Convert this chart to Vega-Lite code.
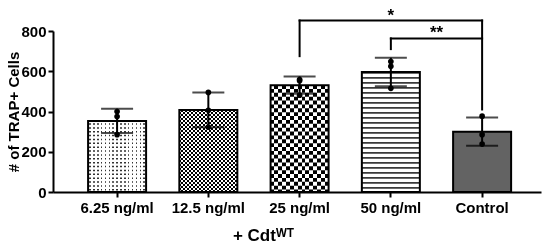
{
  "$schema": "https://vega.github.io/schema/vega-lite/v6.json",
  "width": 488,
  "height": 161,
  "autosize": {"type": "none"},
  "padding": {"left": 53, "top": 31, "right": 9, "bottom": 53},
  "background": "white",
  "config": {
    "view": {"stroke": null},
    "font": "Liberation Sans",
    "axis": {
      "domainColor": "black", "domainWidth": 2, "tickColor": "black", "tickWidth": 2, "tickSize": 5,
      "labelFont": "Liberation Sans", "labelFontSize": 15, "labelFontWeight": "bold", "labelColor": "black",
      "titleFont": "Liberation Sans", "titleFontWeight": "bold", "titleColor": "black", "grid": false
    }
  },
  "datasets": {
    "cells": [
      {"group": "6.25 ng/ml", "value": 400}, {"group": "6.25 ng/ml", "value": 375}, {"group": "6.25 ng/ml", "value": 285},
      {"group": "12.5 ng/ml", "value": 495}, {"group": "12.5 ng/ml", "value": 406}, {"group": "12.5 ng/ml", "value": 322},
      {"group": "25 ng/ml", "value": 559}, {"group": "25 ng/ml", "value": 553}, {"group": "25 ng/ml", "value": 481},
      {"group": "50 ng/ml", "value": 648}, {"group": "50 ng/ml", "value": 625}, {"group": "50 ng/ml", "value": 515},
      {"group": "Control", "value": 377}, {"group": "Control", "value": 285}, {"group": "Control", "value": 238}
    ],
    "brackets": [
      {"from": "25 ng/ml", "to": "Control", "y": 852, "label": "*"},
      {"from": "50 ng/ml", "to": "Control", "y": 763, "label": "**"}
    ],
    "legs": [
      {"group": "25 ng/ml", "top": 852, "bottom": 675},
      {"group": "Control", "top": 852, "bottom": 410},
      {"group": "50 ng/ml", "top": 763, "bottom": 710}
    ]
  },
  "data": {"name": "cells"},
  "encoding": {
    "x": {
      "field": "group", "type": "nominal", "title": "+ Cdtᵂᵀ",
      "scale": {"domain": ["6.25 ng/ml", "12.5 ng/ml", "25 ng/ml", "50 ng/ml", "Control"], "paddingInner": 0.3644, "paddingOuter": 0.356, "align": 0.54},
      "axis": {"labelAngle": 0, "labelPadding": 3, "titleX": 210, "titleY": 48, "titleBaseline": "alphabetic", "titleFontSize": 17}
    }
  },
  "layer": [
    {
      "transform": [{"filter": "datum.group === '6.25 ng/ml'"}],
      "mark": {"type": "bar", "fill": {"gradient": "linear", "x1": 0, "y1": 0, "x2": 1, "y2": 0, "stops": [
        {"offset": 0.02, "color": "#ffffff"}, {"offset": 0.02, "color": "#333333"}, {"offset": 0.0467, "color": "#333333"}, {"offset": 0.0467, "color": "#ffffff"},
        {"offset": 0.0867, "color": "#ffffff"}, {"offset": 0.0867, "color": "#333333"}, {"offset": 0.1133, "color": "#333333"}, {"offset": 0.1133, "color": "#ffffff"},
        {"offset": 0.1533, "color": "#ffffff"}, {"offset": 0.1533, "color": "#333333"}, {"offset": 0.18, "color": "#333333"}, {"offset": 0.18, "color": "#ffffff"},
        {"offset": 0.22, "color": "#ffffff"}, {"offset": 0.22, "color": "#333333"}, {"offset": 0.2467, "color": "#333333"}, {"offset": 0.2467, "color": "#ffffff"},
        {"offset": 0.2867, "color": "#ffffff"}, {"offset": 0.2867, "color": "#333333"}, {"offset": 0.3133, "color": "#333333"}, {"offset": 0.3133, "color": "#ffffff"},
        {"offset": 0.3533, "color": "#ffffff"}, {"offset": 0.3533, "color": "#333333"}, {"offset": 0.38, "color": "#333333"}, {"offset": 0.38, "color": "#ffffff"},
        {"offset": 0.42, "color": "#ffffff"}, {"offset": 0.42, "color": "#333333"}, {"offset": 0.4467, "color": "#333333"}, {"offset": 0.4467, "color": "#ffffff"},
        {"offset": 0.4867, "color": "#ffffff"}, {"offset": 0.4867, "color": "#333333"}, {"offset": 0.5133, "color": "#333333"}, {"offset": 0.5133, "color": "#ffffff"},
        {"offset": 0.5533, "color": "#ffffff"}, {"offset": 0.5533, "color": "#333333"}, {"offset": 0.58, "color": "#333333"}, {"offset": 0.58, "color": "#ffffff"},
        {"offset": 0.62, "color": "#ffffff"}, {"offset": 0.62, "color": "#333333"}, {"offset": 0.6467, "color": "#333333"}, {"offset": 0.6467, "color": "#ffffff"},
        {"offset": 0.6867, "color": "#ffffff"}, {"offset": 0.6867, "color": "#333333"}, {"offset": 0.7133, "color": "#333333"}, {"offset": 0.7133, "color": "#ffffff"},
        {"offset": 0.7533, "color": "#ffffff"}, {"offset": 0.7533, "color": "#333333"}, {"offset": 0.78, "color": "#333333"}, {"offset": 0.78, "color": "#ffffff"},
        {"offset": 0.82, "color": "#ffffff"}, {"offset": 0.82, "color": "#333333"}, {"offset": 0.8467, "color": "#333333"}, {"offset": 0.8467, "color": "#ffffff"},
        {"offset": 0.8867, "color": "#ffffff"}, {"offset": 0.8867, "color": "#333333"}, {"offset": 0.9133, "color": "#333333"}, {"offset": 0.9133, "color": "#ffffff"},
        {"offset": 0.9533, "color": "#ffffff"}, {"offset": 0.9533, "color": "#333333"}, {"offset": 0.98, "color": "#333333"}, {"offset": 0.98, "color": "#ffffff"}
      ]}},
      "encoding": {
        "y": {"aggregate": "mean", "field": "value", "type": "quantitative", "title": "# of TRAP+ Cells", "scale": {"domain": [0, 800], "nice": false},
          "axis": {"values": [0, 200, 400, 600, 800], "titleFontSize": 15, "titlePadding": -1, "labelPadding": 2}}
      }
    },
    {
      "transform": [{"filter": "datum.group === '12.5 ng/ml'"}],
      "mark": {"type": "bar", "fill": {"gradient": "linear", "x1": 0, "y1": 0, "x2": 1, "y2": 0, "stops": [
        {"offset": 0, "color": "#000000"}, {"offset": 0.0345, "color": "#000000"}, {"offset": 0.0345, "color": "#ffffff"},
        {"offset": 0.069, "color": "#ffffff"}, {"offset": 0.069, "color": "#000000"},
        {"offset": 0.1034, "color": "#000000"}, {"offset": 0.1034, "color": "#ffffff"},
        {"offset": 0.1379, "color": "#ffffff"}, {"offset": 0.1379, "color": "#000000"},
        {"offset": 0.1724, "color": "#000000"}, {"offset": 0.1724, "color": "#ffffff"},
        {"offset": 0.2069, "color": "#ffffff"}, {"offset": 0.2069, "color": "#000000"},
        {"offset": 0.2414, "color": "#000000"}, {"offset": 0.2414, "color": "#ffffff"},
        {"offset": 0.2759, "color": "#ffffff"}, {"offset": 0.2759, "color": "#000000"},
        {"offset": 0.3103, "color": "#000000"}, {"offset": 0.3103, "color": "#ffffff"},
        {"offset": 0.3448, "color": "#ffffff"}, {"offset": 0.3448, "color": "#000000"},
        {"offset": 0.3793, "color": "#000000"}, {"offset": 0.3793, "color": "#ffffff"},
        {"offset": 0.4138, "color": "#ffffff"}, {"offset": 0.4138, "color": "#000000"},
        {"offset": 0.4483, "color": "#000000"}, {"offset": 0.4483, "color": "#ffffff"},
        {"offset": 0.4828, "color": "#ffffff"}, {"offset": 0.4828, "color": "#000000"},
        {"offset": 0.5172, "color": "#000000"}, {"offset": 0.5172, "color": "#ffffff"},
        {"offset": 0.5517, "color": "#ffffff"}, {"offset": 0.5517, "color": "#000000"},
        {"offset": 0.5862, "color": "#000000"}, {"offset": 0.5862, "color": "#ffffff"},
        {"offset": 0.6207, "color": "#ffffff"}, {"offset": 0.6207, "color": "#000000"},
        {"offset": 0.6552, "color": "#000000"}, {"offset": 0.6552, "color": "#ffffff"},
        {"offset": 0.6897, "color": "#ffffff"}, {"offset": 0.6897, "color": "#000000"},
        {"offset": 0.7241, "color": "#000000"}, {"offset": 0.7241, "color": "#ffffff"},
        {"offset": 0.7586, "color": "#ffffff"}, {"offset": 0.7586, "color": "#000000"},
        {"offset": 0.7931, "color": "#000000"}, {"offset": 0.7931, "color": "#ffffff"},
        {"offset": 0.8276, "color": "#ffffff"}, {"offset": 0.8276, "color": "#000000"},
        {"offset": 0.8621, "color": "#000000"}, {"offset": 0.8621, "color": "#ffffff"},
        {"offset": 0.8966, "color": "#ffffff"}, {"offset": 0.8966, "color": "#000000"},
        {"offset": 0.931, "color": "#000000"}, {"offset": 0.931, "color": "#ffffff"},
        {"offset": 0.9655, "color": "#ffffff"}, {"offset": 0.9655, "color": "#000000"},
        {"offset": 1, "color": "#000000"}
      ]}},
      "encoding": {"y": {"aggregate": "mean", "field": "value", "type": "quantitative", "title": "# of TRAP+ Cells"}}
    },
    {
      "transform": [{"filter": "datum.group === '25 ng/ml'"}],
      "mark": {"type": "bar", "fill": {"gradient": "linear", "x1": 0, "y1": 0, "x2": 1, "y2": 0, "stops": [
        {"offset": 0, "color": "#000000"}, {"offset": 0.0667, "color": "#000000"}, {"offset": 0.0667, "color": "#ffffff"},
        {"offset": 0.1333, "color": "#ffffff"}, {"offset": 0.1333, "color": "#000000"},
        {"offset": 0.2, "color": "#000000"}, {"offset": 0.2, "color": "#ffffff"},
        {"offset": 0.2667, "color": "#ffffff"}, {"offset": 0.2667, "color": "#000000"},
        {"offset": 0.3333, "color": "#000000"}, {"offset": 0.3333, "color": "#ffffff"},
        {"offset": 0.4, "color": "#ffffff"}, {"offset": 0.4, "color": "#000000"},
        {"offset": 0.4667, "color": "#000000"}, {"offset": 0.4667, "color": "#ffffff"},
        {"offset": 0.5333, "color": "#ffffff"}, {"offset": 0.5333, "color": "#000000"},
        {"offset": 0.6, "color": "#000000"}, {"offset": 0.6, "color": "#ffffff"},
        {"offset": 0.6667, "color": "#ffffff"}, {"offset": 0.6667, "color": "#000000"},
        {"offset": 0.7333, "color": "#000000"}, {"offset": 0.7333, "color": "#ffffff"},
        {"offset": 0.8, "color": "#ffffff"}, {"offset": 0.8, "color": "#000000"},
        {"offset": 0.8667, "color": "#000000"}, {"offset": 0.8667, "color": "#ffffff"},
        {"offset": 0.9333, "color": "#ffffff"}, {"offset": 0.9333, "color": "#000000"},
        {"offset": 1, "color": "#000000"}
      ]}},
      "encoding": {"y": {"aggregate": "mean", "field": "value", "type": "quantitative", "title": "# of TRAP+ Cells"}}
    },
    {
      "transform": [{"filter": "datum.group === '50 ng/ml'"}],
      "mark": {"type": "bar", "fill": "#ffffff"},
      "encoding": {"y": {"aggregate": "mean", "field": "value", "type": "quantitative", "title": "# of TRAP+ Cells"}}
    },
    {
      "transform": [{"filter": "datum.group === 'Control'"}],
      "mark": {"type": "bar", "fill": "#636363"},
      "encoding": {"y": {"aggregate": "mean", "field": "value", "type": "quantitative", "title": "# of TRAP+ Cells"}}
    },
    {
      "transform": [{"filter": "datum.group === '6.25 ng/ml'"}],
      "mark": {"type": "rule", "color": "#ffffff", "strokeWidth": 58, "strokeDash": [2.37, 1.5]},
      "encoding": {"y": {"aggregate": "mean", "field": "value", "type": "quantitative", "title": "# of TRAP+ Cells"}, "y2": {"datum": 0}}
    },
    {
      "transform": [{"filter": "datum.group === '12.5 ng/ml'"}],
      "mark": {"type": "rule", "color": "#ffffff", "strokeWidth": 58, "strokeDash": [2, 2], "blend": "difference"},
      "encoding": {"y": {"aggregate": "mean", "field": "value", "type": "quantitative", "title": "# of TRAP+ Cells"}, "y2": {"datum": 0}}
    },
    {
      "transform": [{"filter": "datum.group === '25 ng/ml'"}],
      "mark": {"type": "rule", "color": "#ffffff", "strokeWidth": 58, "strokeDash": [3.867, 3.867], "blend": "difference"},
      "encoding": {"y": {"aggregate": "mean", "field": "value", "type": "quantitative", "title": "# of TRAP+ Cells"}, "y2": {"datum": 0}}
    },
    {
      "transform": [{"filter": "datum.group === '50 ng/ml'"}],
      "mark": {"type": "rule", "color": "#3a3a3a", "strokeWidth": 58, "strokeDash": [1.7, 3.3]},
      "encoding": {"y": {"aggregate": "mean", "field": "value", "type": "quantitative", "title": "# of TRAP+ Cells"}, "y2": {"datum": 0}}
    },
    {
      "mark": {"type": "bar", "filled": false, "stroke": "#000000", "strokeWidth": 2},
      "encoding": {"y": {"aggregate": "mean", "field": "value", "type": "quantitative", "title": "# of TRAP+ Cells"}}
    },
    {
      "mark": {"type": "errorbar", "extent": "stdev", "ticks": true, "size": 32, "thickness": 2, "color": "#000000"},
      "encoding": {"y": {"field": "value", "type": "quantitative", "title": "# of TRAP+ Cells"}}
    },
    {
      "mark": {"type": "circle", "size": 32, "color": "#000000", "opacity": 1},
      "encoding": {"y": {"field": "value", "type": "quantitative", "title": "# of TRAP+ Cells"}}
    },
    {
      "data": {"name": "brackets"},
      "mark": {"type": "rule", "color": "#000000", "strokeWidth": 2, "strokeCap": "square"},
      "encoding": {
        "x": {"field": "from", "type": "nominal", "title": "+ Cdtᵂᵀ"},
        "x2": {"field": "to"},
        "y": {"field": "y", "type": "quantitative", "title": "# of TRAP+ Cells"}
      }
    },
    {
      "data": {"name": "legs"},
      "mark": {"type": "rule", "color": "#000000", "strokeWidth": 2, "strokeCap": "square"},
      "encoding": {
        "y": {"field": "top", "type": "quantitative", "title": "# of TRAP+ Cells"},
        "y2": {"field": "bottom"}
      }
    },
    {
      "data": {"name": "brackets"},
      "transform": [{"filter": "datum.label === '*'"}],
      "mark": {"type": "text", "fontSize": 17, "fontWeight": "bold", "baseline": "alphabetic", "color": "#000000"},
      "encoding": {
        "x": {"field": "from", "type": "nominal", "bandPosition": 2.073, "title": "+ Cdtᵂᵀ"},
        "y": {"field": "y", "type": "quantitative", "title": "# of TRAP+ Cells"},
        "text": {"field": "label"}
      }
    },
    {
      "data": {"name": "brackets"},
      "transform": [{"filter": "datum.label === '**'"}],
      "mark": {"type": "text", "fontSize": 17, "fontWeight": "bold", "baseline": "alphabetic", "color": "#000000"},
      "encoding": {
        "x": {"field": "from", "type": "nominal", "bandPosition": 1.287, "title": "+ Cdtᵂᵀ"},
        "y": {"field": "y", "type": "quantitative", "title": "# of TRAP+ Cells"},
        "text": {"field": "label"}
      }
    }
  ]
}
